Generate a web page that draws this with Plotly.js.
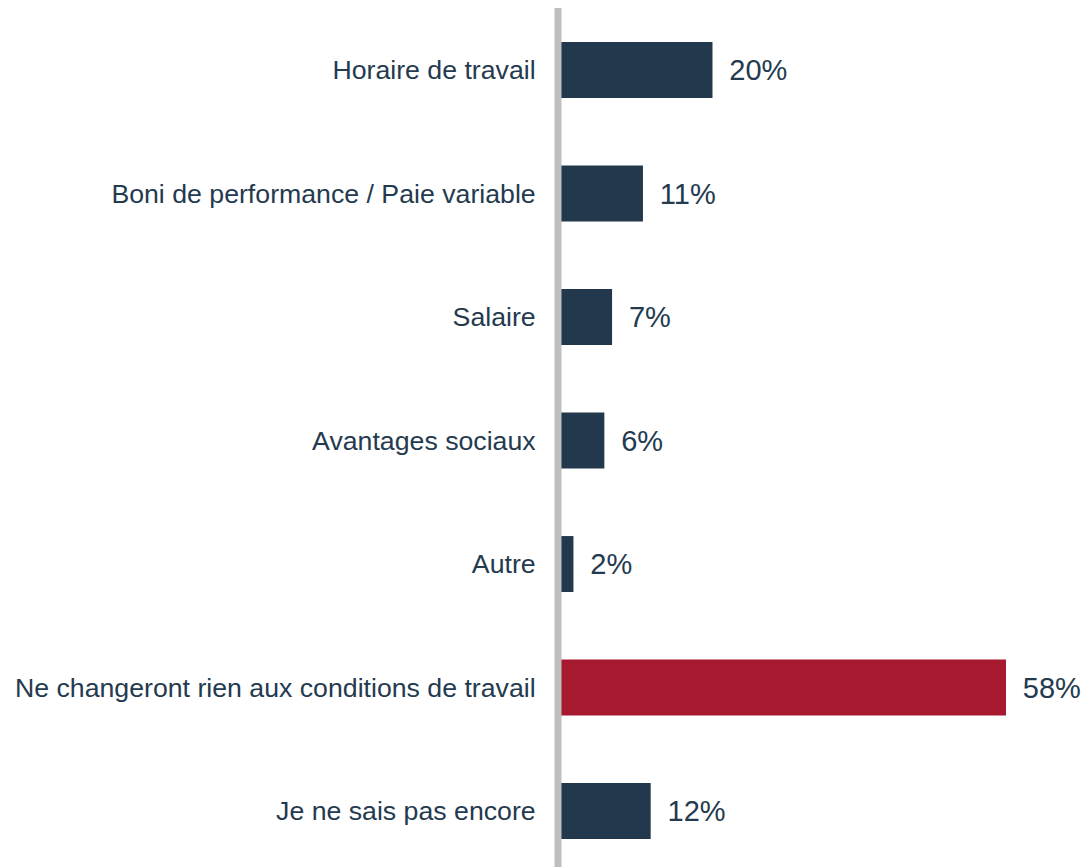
<!DOCTYPE html>
<html>
<head>
<meta charset="utf-8">
<script src="https://cdn.plot.ly/plotly-3.0.1.min.js"></script>
<style>html,body{margin:0;padding:0;background:#fff;}#chart{width:1084px;height:867px;}</style>
</head>
<body>
<div id="chart"></div>
<script>
const categories = [
  "Horaire de travail",
  "Boni de performance / Paie variable",
  "Salaire",
  "Avantages sociaux",
  "Autre",
  "Ne changeront rien aux conditions de travail",
  "Je ne sais pas encore"
];
const values = [20, 11, 7, 6, 2, 58, 12];
const valueLabels = ["20%", "11%", "7%", "6%", "2%", "58%", "12%"];
const highlight = [false, false, false, false, false, true, false];

const navy = "#22384D";
const red = "#A6192E";
const textColor = "#243A4F";

const trace = {
  type: "bar",
  orientation: "h",
  y: categories,
  x: values,
  text: valueLabels.map(t => "\u00a0\u2009" + t),
  textposition: "outside",
  cliponaxis: false,
  textfont: {family: "Liberation Sans, Arial, sans-serif", size: 29, color: textColor},
  marker: {color: highlight.map(h => h ? red : navy), line: {width: 0}},
  width: 0.453,
  hoverinfo: "none"
};

const layout = {
  width: 1084,
  height: 867,
  margin: {l: 558, r: 0, t: 8, b: 0, pad: 0},
  paper_bgcolor: "#ffffff",
  plot_bgcolor: "#ffffff",
  showlegend: false,
  font: {family: "Liberation Sans, Arial, sans-serif", color: textColor},
  xaxis: {
    range: [0, 68.1],
    visible: false,
    showgrid: false,
    zeroline: false,
    fixedrange: true
  },
  yaxis: {
    type: "category",
    categoryorder: "array",
    categoryarray: categories,
    range: [6.453, -0.502],
    showgrid: false,
    zeroline: false,
    showline: false,
    ticks: "outside",
    ticklen: 16,
    tickcolor: "rgba(0,0,0,0)",
    tickfont: {family: "Liberation Sans, Arial, sans-serif", size: 26.7, color: textColor},
    automargin: false,
    fixedrange: true
  },
  shapes: [{
    type: "line",
    xref: "paper", yref: "paper",
    x0: 0, x1: 0, y0: 0, y1: 1,
    line: {color: "#BFBFBF", width: 7},
    layer: "above"
  }]
};

Plotly.newPlot("chart", [trace], layout, {displayModeBar: false, staticPlot: true});
</script>
</body>
</html>
